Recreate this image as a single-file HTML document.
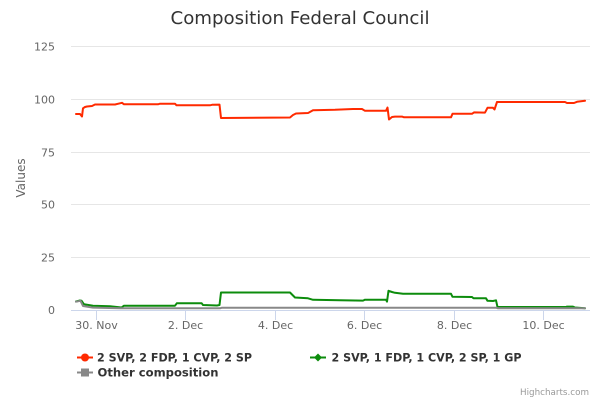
<!DOCTYPE html>
<html>
<head>
<meta charset="utf-8">
<style>
html,body{margin:0;padding:0;background:#fff;}
svg{display:block;font-family:"DejaVu Sans","Liberation Sans",sans-serif;}
</style>
</head>
<body>
<svg width="600" height="400" viewBox="0 0 600 400" xmlns="http://www.w3.org/2000/svg">
<rect x="0" y="0" width="600" height="400" fill="#ffffff"/>
<!-- title -->
<text x="300" y="24" text-anchor="middle" font-size="18" fill="#333333" textLength="259" lengthAdjust="spacingAndGlyphs">Composition Federal Council</text>
<!-- gridlines -->
<g stroke="#e6e6e6" stroke-width="1">
<line x1="71" y1="46.5" x2="590" y2="46.5"/>
<line x1="71" y1="99.5" x2="590" y2="99.5"/>
<line x1="71" y1="152.5" x2="590" y2="152.5"/>
<line x1="71" y1="204.5" x2="590" y2="204.5"/>
<line x1="71" y1="257.5" x2="590" y2="257.5"/>
</g>
<!-- x axis -->
<line x1="71" y1="310.5" x2="590" y2="310.5" stroke="#ccd6eb" stroke-width="1"/>
<g stroke="#ccd6eb" stroke-width="1">
<line x1="96.5" y1="310" x2="96.5" y2="320"/>
<line x1="185.5" y1="310" x2="185.5" y2="320"/>
<line x1="275.5" y1="310" x2="275.5" y2="320"/>
<line x1="364.5" y1="310" x2="364.5" y2="320"/>
<line x1="454.5" y1="310" x2="454.5" y2="320"/>
<line x1="543.5" y1="310" x2="543.5" y2="320"/>
</g>
<!-- y labels -->
<g font-size="11" fill="#666666" text-anchor="end">
<text x="55" y="50.5">125</text>
<text x="55" y="103.5">100</text>
<text x="55" y="156.5">75</text>
<text x="55" y="208.5">50</text>
<text x="55" y="261.5">25</text>
<text x="55" y="314">0</text>
</g>
<!-- x labels -->
<g font-size="11" fill="#666666" text-anchor="middle">
<text x="96.5" y="329">30. Nov</text>
<text x="185.5" y="329">2. Dec</text>
<text x="275.5" y="329">4. Dec</text>
<text x="364.5" y="329">6. Dec</text>
<text x="454.5" y="329">8. Dec</text>
<text x="543.5" y="329">10. Dec</text>
</g>
<!-- y axis title -->
<text transform="translate(25,178) rotate(-90)" text-anchor="middle" font-size="12" fill="#666666">Values</text>
<!-- series -->
<g fill="none" stroke-width="2" stroke-linejoin="round" stroke-linecap="round">
<path stroke="#ff2a00" d="M76,114 L80,114 L82,116.5 L83,108.3 L85,107 L87,106.5 L92,106 L95,104.5 L115,104.5 L120,103.3 L122,102.8 L124,104.3 L158,104.3 L160,103.7 L175,103.7 L176.5,105.3 L210,105.3 L212,104.8 L219.5,104.6 L221,118 L290,117.5 L293,115 L296,113.5 L308,113 L309,112.5 L313,110.2 L335,109.8 L353,109 L362,109 L365,110.8 L386,110.8 L387.5,107.5 L389,119.5 L392,117 L395,116.6 L402,116.6 L404,117.3 L451,117.3 L452.5,113.8 L472,113.8 L474,112.4 L485,112.6 L487.5,107.8 L493,107.8 L494.5,109.5 L497,102 L565,102 L567,103 L574,103 L577,101.8 L585,100.8"/>
<path stroke="#0c8c0c" d="M76,301.5 L80,300.5 L81.5,300.7 L84,304.3 L93,305.7 L110,306.3 L121.5,307.5 L124,305.7 L175,305.7 L176.8,303.3 L201.7,303.3 L203,305 L217,305.5 L219.5,305 L221,292.5 L290,292.5 L295,297.5 L308,298.3 L313,299.8 L340,300.2 L363,300.6 L365,299.7 L386,299.7 L387,301.6 L388.5,290.8 L392,292 L395,292.8 L403,293.8 L451,293.8 L452.5,296.8 L472,297 L473.5,298.3 L486,298.3 L487.5,300.8 L493,301 L496,300.3 L497.5,307 L566,307 L567,306.6 L573,306.6 L575,307.5 L585,308.3"/>
<path stroke="#888888" d="M76,301.7 L80.5,300.8 L83,306 L93,307.6 L120,308.3 L220,308.3 L222,307.7 L496,307.7 L498,308.3 L585,308.3"/>
</g>
<!-- legend -->
<g>
<line x1="77" y1="357.5" x2="93" y2="357.5" stroke="#ff2a00" stroke-width="2"/>
<circle cx="85" cy="357.5" r="4" fill="#ff2a00"/>
<text x="97" y="361.5" font-size="11.5" font-weight="bold" fill="#333333" textLength="155" lengthAdjust="spacingAndGlyphs">2 SVP, 2 FDP, 1 CVP, 2 SP</text>
<line x1="310" y1="357.5" x2="326" y2="357.5" stroke="#0c8c0c" stroke-width="2"/>
<path d="M318,353.5 L322,357.5 L318,361.5 L314,357.5 Z" fill="#0c8c0c"/>
<text x="331.5" y="361.5" font-size="11.5" font-weight="bold" fill="#333333" textLength="190" lengthAdjust="spacingAndGlyphs">2 SVP, 1 FDP, 1 CVP, 2 SP, 1 GP</text>
<line x1="77" y1="372.5" x2="93" y2="372.5" stroke="#888888" stroke-width="2"/>
<rect x="81" y="368.5" width="8" height="8" fill="#888888"/>
<text x="97.5" y="376.5" font-size="11.5" font-weight="bold" fill="#333333" textLength="121" lengthAdjust="spacingAndGlyphs">Other composition</text>
</g>
<!-- credits -->
<text x="589" y="395" text-anchor="end" font-size="9" fill="#999999" textLength="69" lengthAdjust="spacingAndGlyphs">Highcharts.com</text>
</svg>
</body>
</html>
